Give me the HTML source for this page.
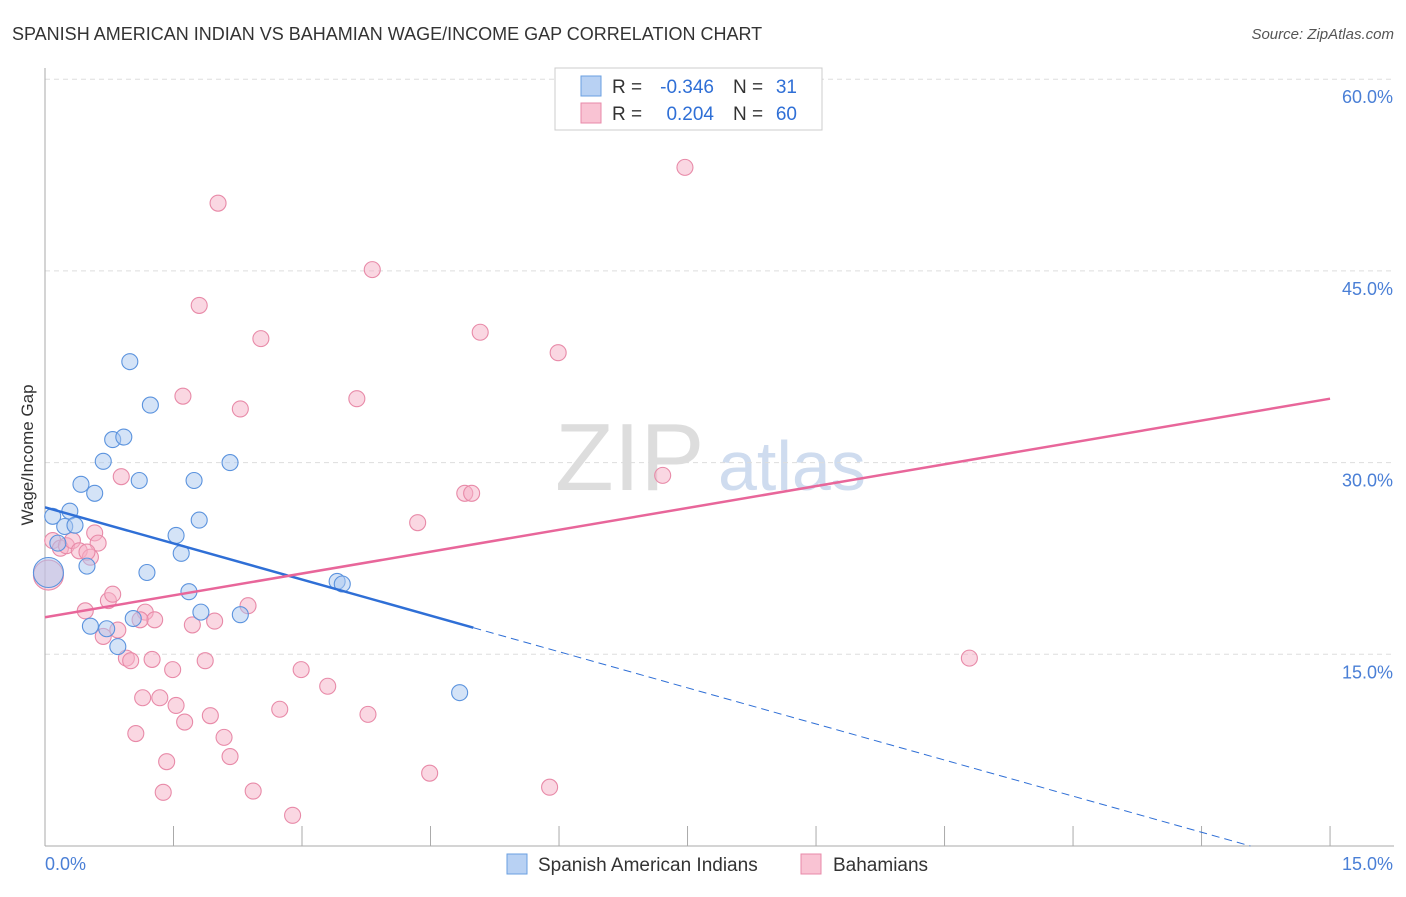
<!DOCTYPE html>
<html><head><meta charset="utf-8"><style>
body{margin:0;background:#fff;font-family:"Liberation Sans",sans-serif;}
svg text{font-family:"Liberation Sans",sans-serif;}
</style></head><body>
<svg id="c" width="1406" height="892">
<text x="12" y="40" font-size="18" fill="#333">SPANISH AMERICAN INDIAN VS BAHAMIAN WAGE/INCOME GAP CORRELATION CHART</text>
<text x="1394" y="39" font-size="15" fill="#555" text-anchor="end" font-style="italic">Source: ZipAtlas.com</text>
<text x="33" y="455" font-size="17" fill="#333" text-anchor="middle" transform="rotate(-90 33 455)">Wage/Income Gap</text>
<text x="555" y="490" font-size="96" fill="#ddd" font-family="Liberation Serif">ZIP</text>
<text x="718" y="490" font-size="70" fill="#cfdcef">atlas</text>
<g id="grid"></g><g id="marks"></g>
<g>
<rect x="555" y="68" width="267" height="62" fill="#fff" stroke="#ccc"/>
<rect x="581" y="76" width="20" height="20" fill="#b8d1f3" stroke="#6a9fe0"/>
<rect x="581" y="103" width="20" height="20" fill="#f9c3d3" stroke="#e88aa8"/>
<text x="612" y="93" font-size="19" fill="#333">R =</text>
<text x="714" y="93" font-size="19" fill="#2f6fd6" text-anchor="end">-0.346</text>
<text x="733" y="93" font-size="19" fill="#333">N =</text>
<text x="797" y="93" font-size="19" fill="#2f6fd6" text-anchor="end">31</text>
<text x="612" y="120" font-size="19" fill="#333">R =</text>
<text x="714" y="120" font-size="19" fill="#2f6fd6" text-anchor="end">0.204</text>
<text x="733" y="120" font-size="19" fill="#333">N =</text>
<text x="797" y="120" font-size="19" fill="#2f6fd6" text-anchor="end">60</text>
</g>
<g>
<rect x="507" y="854" width="20" height="20" fill="#b8d1f3" stroke="#6a9fe0"/>
<text x="538" y="871" font-size="19" fill="#333">Spanish American Indians</text>
<rect x="801" y="854" width="20" height="20" fill="#f9c3d3" stroke="#e88aa8"/>
<text x="833" y="871" font-size="19" fill="#333">Bahamians</text>
</g>
</svg>
<script>
const xTicks=[0,1.5,3,4.5,6,7.5,9,10.5,12,13.5,15];
const yTicks=[15,30,45,60];
const yTickLabels=["15.0%","30.0%","45.0%","60.0%"];
const blueX=[0.04,0.09,0.23,0.29,0.35,0.42,0.49,0.58,0.53,0.68,0.72,0.79,0.85,0.92,0.99,1.03,1.10,1.19,1.23,1.53,1.59,1.68,1.74,1.80,1.82,2.16,2.28,3.41,3.47,4.84,0.15];
const blueY=[21.4,25.8,25.0,26.2,25.1,28.3,21.9,27.6,17.2,30.1,17.0,31.8,15.6,32.0,37.9,17.8,28.6,21.4,34.5,24.3,22.9,19.9,28.6,25.5,18.3,30.0,18.1,20.7,20.5,12.0,23.7];
const pinkX=[0.04,0.09,0.18,0.25,0.32,0.40,0.47,0.53,0.58,0.62,0.68,0.74,0.79,0.85,0.89,0.95,1.00,1.06,1.14,1.17,1.25,1.28,1.34,1.38,1.42,1.49,1.53,1.61,1.63,1.72,1.80,1.87,1.93,1.98,2.02,2.09,2.16,2.28,2.37,2.43,2.52,2.74,2.89,2.99,3.30,3.64,3.77,3.82,4.35,4.49,4.90,4.98,5.08,5.89,5.99,7.21,7.47,10.79,0.49,1.11];
const pinkY=[21.2,23.9,23.3,23.5,23.9,23.1,18.4,22.6,24.5,23.7,16.4,19.2,19.7,16.9,28.9,14.7,14.5,8.8,11.6,18.3,14.6,17.7,11.6,4.2,6.6,13.8,11.0,35.2,9.7,17.3,42.3,14.5,10.2,17.6,50.3,8.5,7.0,34.2,18.8,4.3,39.7,10.7,2.4,13.8,12.5,35.0,10.3,45.1,25.3,5.7,27.6,27.6,40.2,4.6,38.6,29.0,53.1,14.7,23.0,17.7];
const blueTrend=[26.5,-1.75], pinkTrend=[17.9,35.0];
const X=v=>45+v*85.67, Y=v=>846-v*12.78;
const NS='http://www.w3.org/2000/svg';
function mk(t,a,p){const e=document.createElementNS(NS,t);for(const k in a)e.setAttribute(k,a[k]);p.appendChild(e);return e;}
const g=document.getElementById('grid'),m=document.getElementById('marks');
yTicks.forEach((t,i)=>{const l=mk('line',{x1:45,x2:1394,y1:Y(t),y2:Y(t),stroke:'#ddd','stroke-dasharray':'5,4'},g);


const tx=mk('text',{x:1393,y:Y(t)+24,'font-size':18,fill:'#4a7fd6','text-anchor':'end'},g);tx.textContent=yTickLabels[i];

});
mk('line',{x1:45,x2:45,y1:68,y2:846,stroke:'#aaa'},g);
mk('line',{x1:45,x2:1394,y1:846,y2:846,stroke:'#aaa'},g);
xTicks.forEach(t=>{const l=mk('line',{x1:X(t),x2:X(t),y1:826,y2:846,stroke:'#aaa'},g);

});
let t0=mk('text',{x:45,y:870,'font-size':18,fill:'#4a7fd6'},g);t0.textContent='0.0%';


let t1=mk('text',{x:1393,y:870,'font-size':18,fill:'#4a7fd6','text-anchor':'end'},g);t1.textContent='15.0%';


function pts(xs,ys,fill,stroke,name){xs.forEach((x,i)=>{const c=mk('circle',{cx:X(x),cy:Y(ys[i]),r:i==0?15:8,fill:fill,'fill-opacity':0.5,stroke:stroke,'stroke-width':1.1},m);

});}
pts(pinkX,pinkY,'#f5b0c5','#e88aa8','bahamian-point');
pts(blueX,blueY,'#a9c8f0','#5b93de','spanish-american-indian-point');
const bY=x=>blueTrend[0]+(blueTrend[1]-blueTrend[0])*x/15;
let bl=mk('line',{x1:X(0),y1:Y(bY(0)),x2:X(5),y2:Y(bY(5)),stroke:'#2f6fd6','stroke-width':2.5},m);


let xe=(0-blueTrend[0])/(blueTrend[1]-blueTrend[0])*15;
let bd=mk('line',{x1:X(5),y1:Y(bY(5)),x2:X(xe),y2:Y(0),stroke:'#2f6fd6','stroke-width':1,'stroke-dasharray':'8,5'},m);


let pl=mk('line',{x1:X(0),y1:Y(pinkTrend[0]),x2:X(15),y2:Y(pinkTrend[1]),stroke:'#e8669a','stroke-width':2.5},m);


</script>
</body></html>
